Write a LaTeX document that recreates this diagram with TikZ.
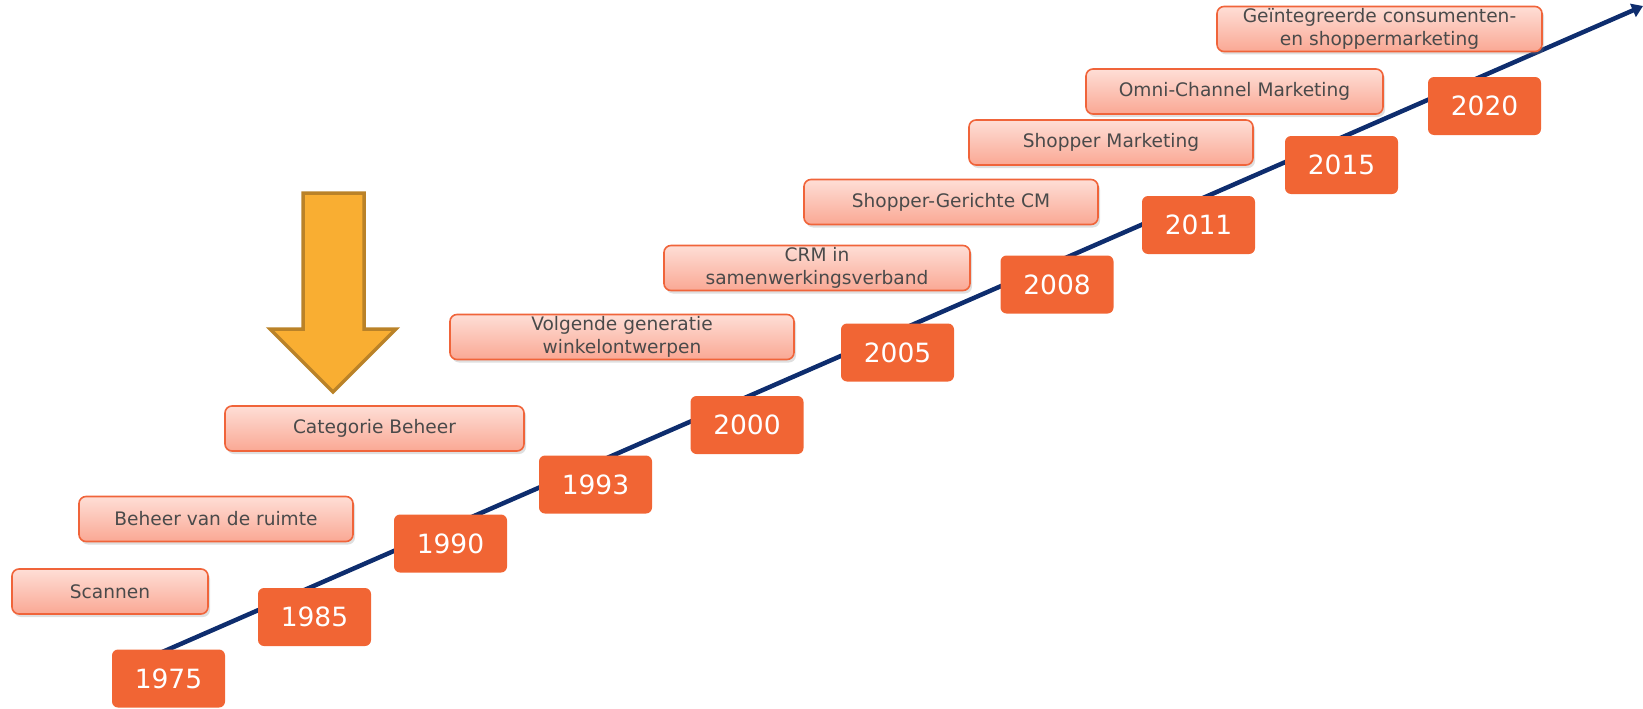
\documentclass[tikz,border=0pt]{standalone}
\usepackage{fontspec}
\setmainfont{DejaVu Sans}
\usetikzlibrary{arrows.meta,shadows}
\definecolor{axisblue}{RGB}{14,45,110}
\definecolor{yearfill}{RGB}{241,101,52}
\definecolor{labtop}{RGB}{254,222,214}
\definecolor{labbot}{RGB}{250,168,148}
\definecolor{labedge}{RGB}{240,100,58}
\definecolor{labtext}{RGB}{74,74,74}
\definecolor{arrowfill}{RGB}{249,174,50}
\definecolor{arrowedge}{RGB}{186,130,40}
\tikzset{
  yearbox/.style={draw=none, fill=yearfill, rounded corners=6pt,
    minimum width=113pt, minimum height=58pt, inner sep=0pt,
    text=white, font=\fontsize{26.5}{30}\selectfont},
  labelbox/.style={draw=labedge, line width=1.6pt, rounded corners=7pt,
    top color=labtop, bottom color=labbot,
    drop shadow={opacity=0.25, shadow xshift=2pt, shadow yshift=-3pt},
    minimum height=45pt, inner sep=0pt, align=center,
    text=labtext, font=\fontsize{18.6}{23}\selectfont},
  axisline/.style={axisblue, line width=4.5pt,
    -{Triangle[length=11pt,width=14pt]}}
}
\begin{document}
\begin{tikzpicture}[x=1pt,y=-1pt]
\useasboundingbox (0,0) rectangle (1643,709);

% timeline axis
\coordinate (axisstart) at (160,653);
\coordinate (axisend) at (1643,6);
\draw[axisline] (axisstart) -- (axisend);

% year markers along the axis
\node[yearbox] (y1975) at (168.5,678.5) {1975};
\node[yearbox] (y1985) at (314.5,617) {1985};
\node[yearbox] (y1990) at (450.5,543.5) {1990};
\node[yearbox] (y1993) at (595.5,484.5) {1993};
\node[yearbox] (y2000) at (747,425) {2000};
\node[yearbox] (y2005) at (897.5,352.5) {2005};
\node[yearbox] (y2008) at (1057,284.5) {2008};
\node[yearbox] (y2011) at (1198.5,225) {2011};
\node[yearbox] (y2015) at (1341.5,165) {2015};
\node[yearbox] (y2020) at (1484.5,106) {2020};

% milestone labels
\node[labelbox, minimum width=196pt] (scan) at (110,591.5) {Scannen};
\node[labelbox, minimum width=274pt] (ruimte) at (216,519) {Beheer van de ruimte};
\node[labelbox, minimum width=299pt] (cat) at (374.5,428.5) {Categorie Beheer};
\node[labelbox, minimum width=344pt] (winkel) at (622,337) {Volgende generatie\\winkelontwerpen};
\node[labelbox, minimum width=306pt] (crm) at (817,268) {CRM in\\samenwerkingsverband};
\node[labelbox, minimum width=294pt] (sgcm) at (951,202) {Shopper-Gerichte CM};
\node[labelbox, minimum width=284pt] (shopm) at (1111,142.5) {Shopper Marketing};
\node[labelbox, minimum width=297pt] (omni) at (1234.5,91.5) {Omni-Channel Marketing};
\node[labelbox, minimum width=325pt] (integr) at (1379.5,29) {Geïntegreerde consumenten-\\en shoppermarketing};

% highlight arrow pointing at category management
\draw[fill=arrowfill, draw=arrowedge, line width=3.5pt, line join=miter]
  (303,193) -- (364,193) -- (364,329) -- (396,329) -- (333,392)
  -- (270,329) -- (303,329) -- cycle;
\end{tikzpicture}
\end{document}
